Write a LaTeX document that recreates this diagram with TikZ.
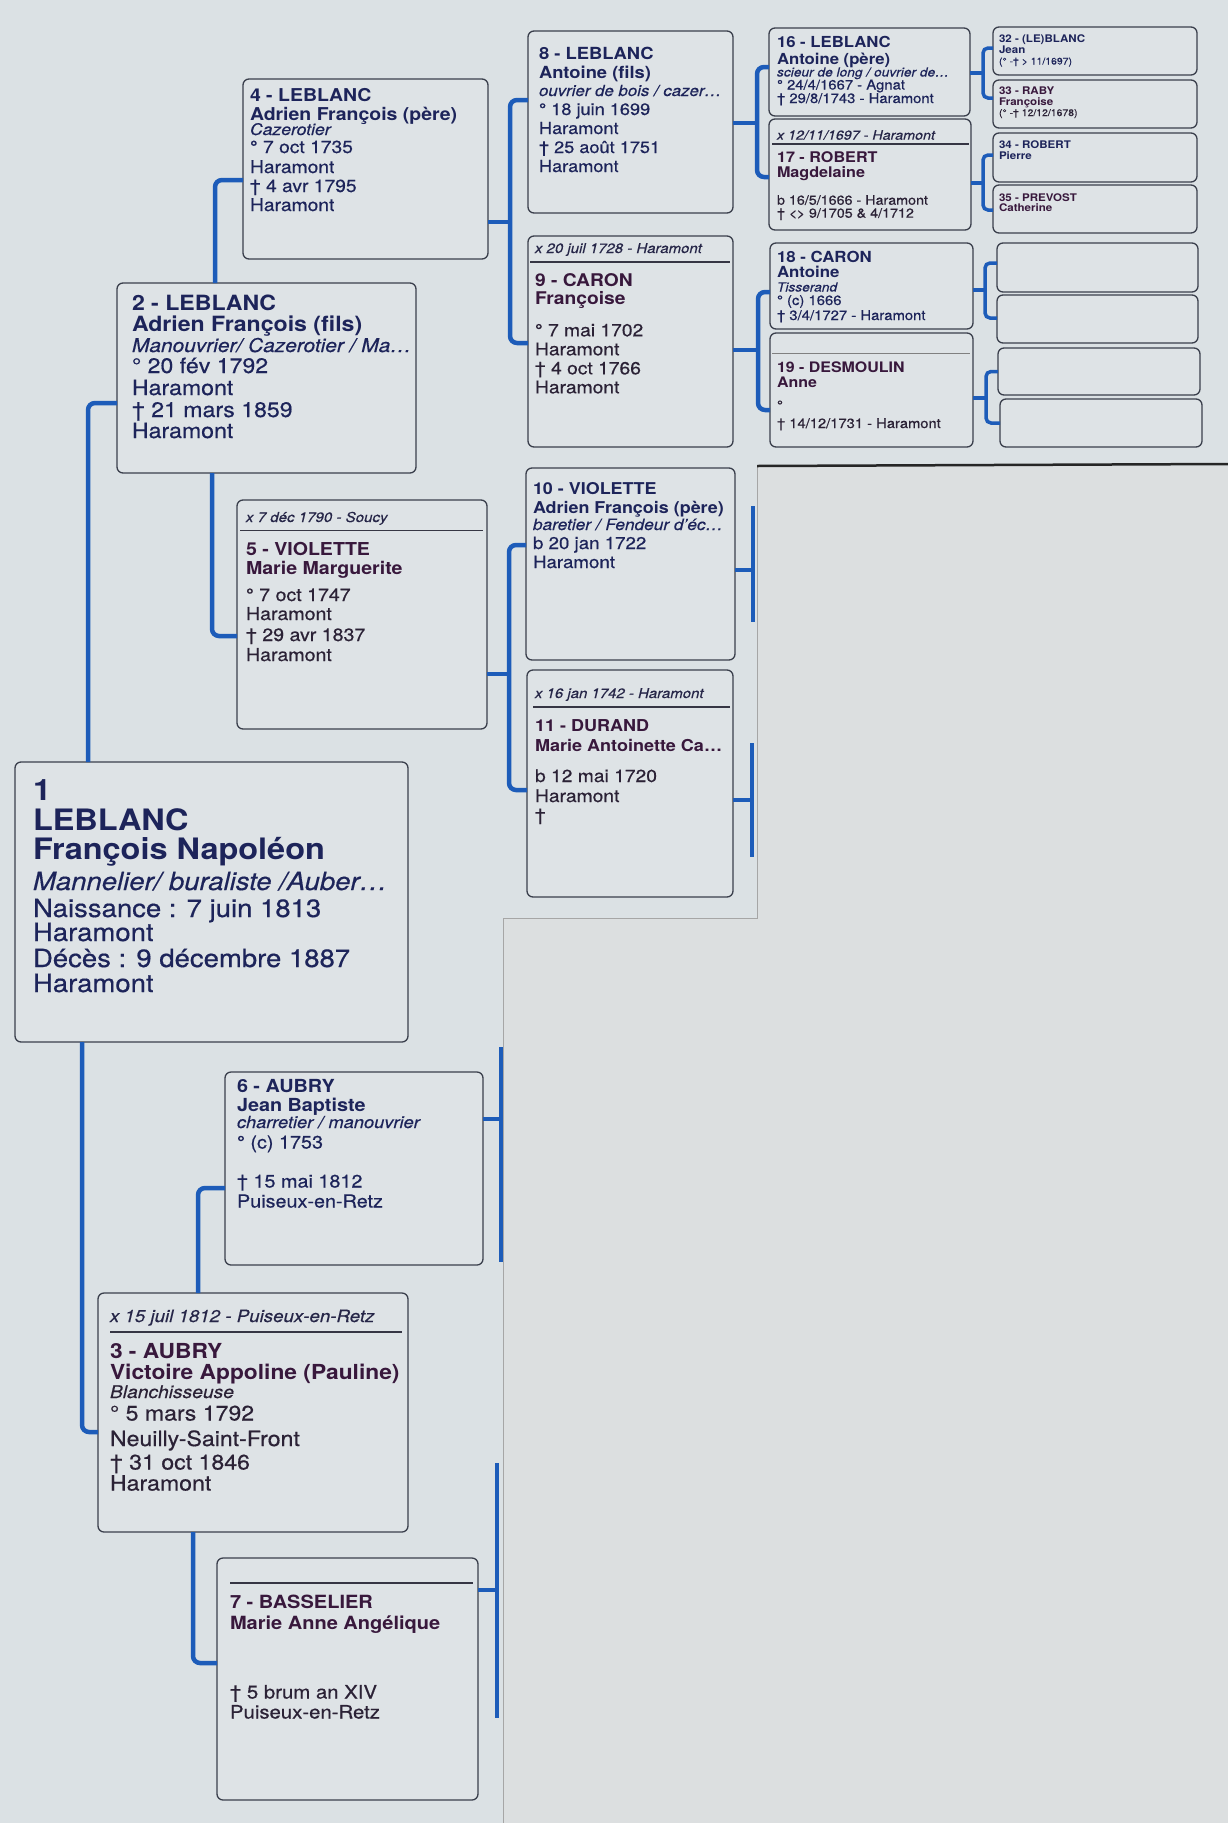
\documentclass[tikz,border=0pt]{standalone}
\usepackage{fontspec}
\setmainfont{TeX Gyre Heros}[FakeStretch=1.1, UprightFeatures={FakeBold=0.5}, ItalicFeatures={FakeBold=0.4}]
\definecolor{bg}{HTML}{DBE1E4}
\definecolor{bg2}{HTML}{DCDFE0}
\definecolor{boxf}{HTML}{DEE3E6}
\definecolor{boxc}{HTML}{3A3F4C}
\definecolor{lblue}{HTML}{1D5CB9}
\definecolor{mnavy}{HTML}{1D245A}
\definecolor{fpurp}{HTML}{38183C}
\definecolor{fdark}{HTML}{2B2236}
\definecolor{mrc}{HTML}{262648}
\definecolor{rulec}{HTML}{363644}
\newcommand\pbox[5]{\node[box, minimum width=#4pt, minimum height=#5pt] (#1) at (#2,#3) {};}
\tikzset{
  box/.style={draw=boxc, line width=1.3pt, fill=boxf, rounded corners=6pt, anchor=north west, inner sep=0pt, outer sep=0pt},
  conn/.style={draw=lblue, line width=4.5pt, rounded corners=7pt},
  sconn/.style={draw=lblue, line width=3.5pt, rounded corners=5pt},
  rl/.style={draw=rulec, line width=1.2pt},
  tx/.style={anchor=base west, inner sep=0pt, outer sep=0pt},
  nm/.style={tx, text=mnavy, font=\fontsize{#1}{#1}\selectfont\bfseries},
  fn/.style={tx, text=fpurp, font=\fontsize{#1}{#1}\selectfont\bfseries},
  md/.style={tx, text=mnavy, font=\fontsize{#1}{#1}\selectfont},
  fd/.style={tx, text=fdark, font=\fontsize{#1}{#1}\selectfont},
  mo/.style={tx, text=mnavy, font=\fontsize{#1}{#1}\selectfont\itshape},
  fo/.style={tx, text=fdark, font=\fontsize{#1}{#1}\selectfont\itshape},
  mr/.style={tx, text=mrc, font=\fontsize{#1}{#1}\selectfont\itshape},
}
\begin{document}
\begin{tikzpicture}[x=1pt,y=-1pt]
% background
\fill[bg] (0,0) rectangle (1228,1823);
\useasboundingbox (0,0) rectangle (1228,1823);
\fill[bg2] (503,1823) -- (503,918) -- (757,918) -- (757,466) -- (1228,466) -- (1228,1823) -- cycle;
\draw[gray!70, line width=0.8pt] (503,1823) -- (503,918) -- (757,918) -- (757,466);
\draw[black!85, line width=2.5pt] (757,466) -- (1228,464);

% ---------- boxes ----------
\pbox{b1}{15}{762}{393}{280}
\pbox{b2}{117}{283}{299}{190}
\pbox{b3}{98}{1293}{310}{239}
\pbox{b4}{243}{79}{245}{180}
\pbox{b5}{237}{500}{250}{229}
\pbox{b6}{225}{1072}{258}{193}
\pbox{b7}{217}{1558}{261}{242}
\pbox{b8}{528}{31}{205}{182}
\pbox{b9}{528}{236}{205}{211}
\pbox{b10}{526}{468}{209}{192}
\pbox{b11}{527}{670}{206}{227}
\pbox{b16}{769}{28}{201}{88}
\pbox{b17}{769}{119}{202}{111}
\pbox{b18}{770}{243}{203}{86}
\pbox{b19}{770}{333}{203}{114}
\pbox{b32}{993}{27}{204}{48}
\pbox{b33}{993}{80}{204}{48}
\pbox{b34}{993}{133}{204}{49}
\pbox{b35}{993}{185}{204}{48}
\pbox{e1}{997}{243}{201}{49}
\pbox{e2}{997}{295}{201}{48}
\pbox{e3}{998}{348}{202}{47}
\pbox{e4}{1000}{399}{202}{48}

% ---------- connectors ----------
\draw[conn] ([xshift=73pt]b1.north west) |- ([yshift=-25pt]b2.west);
\draw[conn] ([xshift=67pt]b1.south west) |- ([yshift=-19.5pt]b3.west);
\draw[conn] ([xshift=98pt]b2.north west) |- ([yshift=-11pt]b4.west);
\draw[conn] ([xshift=95pt]b2.south west) |- ([yshift=-21.5pt]b5.west);
\draw[conn] ([xshift=100pt]b3.north west) |- ([yshift=-19.5pt]b6.west);
\draw[conn] ([xshift=95pt]b3.south west) |- ([yshift=16pt]b7.west);
% forks
\coordinate (f4) at (510,222);
\draw[conn] ([yshift=-53pt]b4.east) -- (f4);
\draw[conn] ([yshift=22pt]b8.west) -| (f4) |- ([yshift=-1.5pt]b9.west);
\coordinate (f5) at (509,674);
\draw[conn] ([yshift=-59.5pt]b5.east) -- (f5);
\draw[conn] ([yshift=19pt]b10.west) -| (f5) |- ([yshift=-6.5pt]b11.west);
\coordinate (f8) at (757,123);
\draw[conn] ([yshift=-1pt]b8.east) -- (f8);
\draw[conn] ([yshift=5pt]b16.west) -| (f8) |- ([yshift=-2.5pt]b17.west);
\coordinate (f9) at (758,350);
\draw[conn] ([yshift=-8.5pt]b9.east) -- (f9);
\draw[conn] ([yshift=-6pt]b18.west) -| (f9) |- ([yshift=-20pt]b19.west);
\coordinate (f16) at (983,73);
\draw[sconn] ([yshift=-1pt]b16.east) -- (f16);
\draw[sconn] ([yshift=3pt]b32.west) -| (f16) |- ([yshift=6pt]b33.west);
\coordinate (f17) at (983,183);
\draw[sconn] ([yshift=-8.5pt]b17.east) -- (f17);
\draw[sconn] ([yshift=2.5pt]b34.west) -| (f17) |- ([yshift=-1pt]b35.west);
\coordinate (f18) at (985,290);
\draw[sconn] ([yshift=-4pt]b18.east) -- (f18);
\draw[sconn] ([yshift=4.5pt]e1.west) -| (f18) |- ([yshift=1pt]e2.west);
\coordinate (f19) at (986,398);
\draw[sconn] ([yshift=-8pt]b19.east) -- (f19);
\draw[sconn] (e3.west) -| (f19) |- (e4.west);
% cut-off forks
\coordinate (p10) at (753,570);
\coordinate (p10a) at (753,506);
\coordinate (p10b) at (753,622);
\draw[conn] ([yshift=-6pt]b10.east) -- (p10);
\draw[conn] (p10a) -- (p10b);
\coordinate (p11) at (752,800);
\coordinate (p11a) at (752,743);
\coordinate (p11b) at (752,857);
\draw[conn] ([yshift=-16.5pt]b11.east) -- (p11);
\draw[conn] (p11a) -- (p11b);
\coordinate (p6) at (501,1119);
\coordinate (p6a) at (501,1047);
\coordinate (p6b) at (501,1262);
\draw[conn] ([yshift=49.5pt]b6.east) -- (p6);
\draw[conn] (p6a) -- (p6b);
\coordinate (p7) at (497,1590);
\coordinate (p7a) at (497,1463);
\coordinate (p7b) at (497,1718);
\draw[conn] ([yshift=89pt]b7.east) -- (p7);
\draw[conn] (p7a) -- (p7b);

% ---------- texts ----------
% box 1
\node[nm=29.5] (t1a) at (33,800) {1};
\node[nm=29.5] (t1b) at (33,830) {LEBLANC};
\node[nm=29.5] (t1c) at (33,859) {François Napoléon};
\node[mo=25] (t1d) at (33,890) {Mannelier/ buraliste /Auber…};
\node[md=25] (t1e) at (33,917) {Naissance : 7 juin 1813};
\node[md=25] (t1f) at (33,941) {Haramont};
\node[md=25] (t1g) at (33,967) {Décès : 9 décembre 1887};
\node[md=25] (t1h) at (33,992) {Haramont};
% box 2
\node[nm=21] (t2a) at (132,310) {2 - LEBLANC};
\node[nm=21] (t2b) at (132,331) {Adrien François (fils)};
\node[mo=19] (t2c) at (132,352) {Manouvrier/ Cazerotier / Ma…};
\node[md=21] (t2d) at (132,373) {° 20 fév 1792};
\node[md=21] (t2e) at (132,395) {Haramont};
\node[md=21] (t2f) at (132,417) {† 21 mars 1859};
\node[md=21] (t2g) at (132,438) {Haramont};
% box 4
\node[nm=17.7] (t4a) at (250,101) {4 - LEBLANC};
\node[nm=17.7] (t4b) at (250,120) {Adrien François (père)};
\node[mo=16] (t4c) at (250,135) {Cazerotier};
\node[md=17.5] (t4d) at (250,153) {° 7 oct 1735};
\node[md=17.5] (t4e) at (250,173) {Haramont};
\node[md=17.5] (t4f) at (250,192) {† 4 avr 1795};
\node[md=17.5] (t4g) at (250,211) {Haramont};
% box 5
\node[mr=13.7] (t5m) at (246,522) {x 7 déc 1790 - Soucy};
\draw[rl] ([xshift=3pt,yshift=-30.6pt]b5.north west) -- ([xshift=-4pt,yshift=-30.6pt]b5.north east);
\node[fn=17.8] (t5a) at (246,555) {5 - VIOLETTE};
\node[fn=17.8] (t5b) at (246,574) {Marie Marguerite};
\node[fd=17.8] (t5c) at (246,601) {° 7 oct 1747};
\node[fd=17.8] (t5d) at (246,620) {Haramont};
\node[fd=17.8] (t5e) at (246,641) {† 29 avr 1837};
\node[fd=17.8] (t5f) at (246,661) {Haramont};
% box 6
\node[nm=18] (t6a) at (237,1092.5) {6 - AUBRY};
\node[nm=18] (t6b) at (237,1111.5) {Jean Baptiste};
\node[mo=16.6] (t6c) at (237,1128) {charretier / manouvrier};
\node[md=18] (t6d) at (237,1148.5) {° (c) 1753};
\node[md=18] (t6e) at (237,1187.5) {† 15 mai 1812};
\node[md=18] (t6f) at (237,1207.5) {Puiseux-en-Retz};
% box 3
\node[mr=17] (t3m) at (110,1322) {x 15 juil 1812 - Puiseux-en-Retz};
\draw[rl] ([xshift=12pt,yshift=-39pt]b3.north west) -- ([xshift=-6pt,yshift=-39pt]b3.north east);
\node[fn=20.7] (t3a) at (110,1358.5) {3 - AUBRY};
\node[fn=20.7] (t3b) at (110,1379.5) {Victoire Appoline (Pauline)};
\node[fo=17.5] (t3c) at (110,1398) {Blanchisseuse};
\node[fd=21] (t3d) at (110,1420.5) {° 5 mars 1792};
\node[fd=21] (t3e) at (110,1446) {Neuilly-Saint-Front};
\node[fd=21] (t3f) at (110,1469.5) {† 31 oct 1846};
\node[fd=21] (t3g) at (110,1490.5) {Haramont};
% box 7
\draw[rl] ([xshift=13pt,yshift=-25pt]b7.north west) -- ([xshift=-5pt,yshift=-25pt]b7.north east);
\node[fn=18.2] (t7a) at (230,1608.5) {7 - BASSELIER};
\node[fn=18.2] (t7b) at (230,1629.5) {Marie Anne Angélique};
\node[fd=18.5] (t7c) at (230,1698.5) {† 5 brum an XIV};
\node[fd=18.5] (t7d) at (230,1718.5) {Puiseux-en-Retz};
% box 8
\node[nm=16.7] (t8a) at (539,59) {8 - LEBLANC};
\node[nm=16.7] (t8b) at (539,78) {Antoine (fils)};
\node[mo=15.3] (t8c) at (539,96) {ouvrier de bois / cazer…};
\node[md=16.5] (t8d) at (539,115) {° 18 juin 1699};
\node[md=16.5] (t8e) at (539,134) {Haramont};
\node[md=16.5] (t8f) at (539,153) {† 25 août 1751};
\node[md=16.5] (t8g) at (539,172) {Haramont};
% box 9
\node[mr=13.6] (t9m) at (535,253) {x 20 juil 1728 - Haramont};
\draw[rl] ([xshift=2pt,yshift=-26pt]b9.north west) -- ([xshift=-3pt,yshift=-26pt]b9.north east);
\node[fn=17.5] (t9a) at (535,286.3) {9 - CARON};
\node[fn=17.5] (t9b) at (535,304.3) {Françoise};
\node[fd=17.5] (t9c) at (535,336.3) {° 7 mai 1702};
\node[fd=17.5] (t9d) at (535,355.3) {Haramont};
\node[fd=17.5] (t9e) at (535,374.3) {† 4 oct 1766};
\node[fd=17.5] (t9f) at (535,393.3) {Haramont};
% box 10
\node[nm=16.3] (t10a) at (533,494) {10 - VIOLETTE};
\node[nm=16.3] (t10b) at (533,513) {Adrien François (père)};
\node[mo=15.7] (t10c) at (533,530) {baretier / Fendeur d'éc…};
\node[md=17] (t10d) at (533,549) {b 20 jan 1722};
\node[md=17] (t10e) at (533,568) {Haramont};
% box 11
\node[mr=13.6] (t11m) at (535,698) {x 16 jan 1742 - Haramont};
\draw[rl] ([xshift=6pt,yshift=-37pt]b11.north west) -- ([xshift=-3pt,yshift=-37pt]b11.north east);
\node[fn=16.4] (t11a) at (535,731) {11 - DURAND};
\node[fn=16.4] (t11b) at (535,751) {Marie Antoinette Ca…};
\node[fd=17.5] (t11c) at (535,782) {b 12 mai 1720};
\node[fd=17.5] (t11d) at (535,802) {Haramont};
\node[fd=17.5] (t11e) at (535,821) {†};
% box 16
\node[nm=15.2] (t16a) at (777,47.5) {16 - LEBLANC};
\node[nm=15.2] (t16b) at (777,64) {Antoine (père)};
\node[mo=12.5] (t16c) at (777,76.5) {scieur de long / ouvrier de…};
\node[md=13.5] (t16d) at (777,89.5) {° 24/4/1667 - Agnat};
\node[md=13.5] (t16e) at (777,103) {† 29/8/1743 - Haramont};
% box 17
\node[mr=13] (t17m) at (777,139.7) {x 12/11/1697 - Haramont};
\draw[rl] ([xshift=3pt,yshift=-25pt]b17.north west) -- ([xshift=-2pt,yshift=-25pt]b17.north east);
\node[fn=14.7] (t17a) at (777,162.3) {17 - ROBERT};
\node[fn=14.7] (t17b) at (777,177.3) {Magdelaine};
\node[fd=13] (t17c) at (777,204.7) {b 16/5/1666 - Haramont};
\node[fd=13] (t17d) at (777,217.7) {† <\kern-0.05em> 9/1705 \& 4/1712};
% box 18
\node[nm=15.3] (t18a) at (777,262.5) {18 - CARON};
\node[nm=15.3] (t18b) at (777,277.5) {Antoine};
\node[mo=12.5] (t18c) at (777,291.5) {Tisserand};
\node[md=13.5] (t18d) at (777,305) {° (c) 1666};
\node[md=13.5] (t18e) at (777,320) {† 3/4/1727 - Haramont};
% box 19
\draw[draw=gray, line width=1pt] ([xshift=2pt,yshift=-20pt]b19.north west) -- ([xshift=-3pt,yshift=-20pt]b19.north east);
\node[fn=14.5] (t19a) at (777,372) {19 - DESMOULIN};
\node[fn=14.5] (t19b) at (777,387) {Anne};
\node[fd=13.4] (t19c) at (777,410) {°};
\node[fd=13.4] (t19d) at (777,428) {† 14/12/1731 - Haramont};
% boxes 32-35
\node[nm=10.5] (t32a) at (999,42) {32 - (LE)BLANC};
\node[nm=10.5] (t32b) at (999,53) {Jean};
\node[md=9.5] (t32c) at (999,64.5) {(° -† > 11/1697)};
\node[fn=10.5] (t33a) at (999,94) {33 - RABY};
\node[fn=10.5] (t33b) at (999,105) {Françoise};
\node[fd=9.5] (t33c) at (999,116) {(° -† 12/12/1678)};
\node[nm=10.5] (t34a) at (999,148) {34 - ROBERT};
\node[nm=10.5] (t34b) at (999,159) {Pierre};
\node[fn=10.5] (t35a) at (999,201) {35 - PREVOST};
\node[fn=10.5] (t35b) at (999,211) {Catherine};
\end{tikzpicture}
\end{document}
